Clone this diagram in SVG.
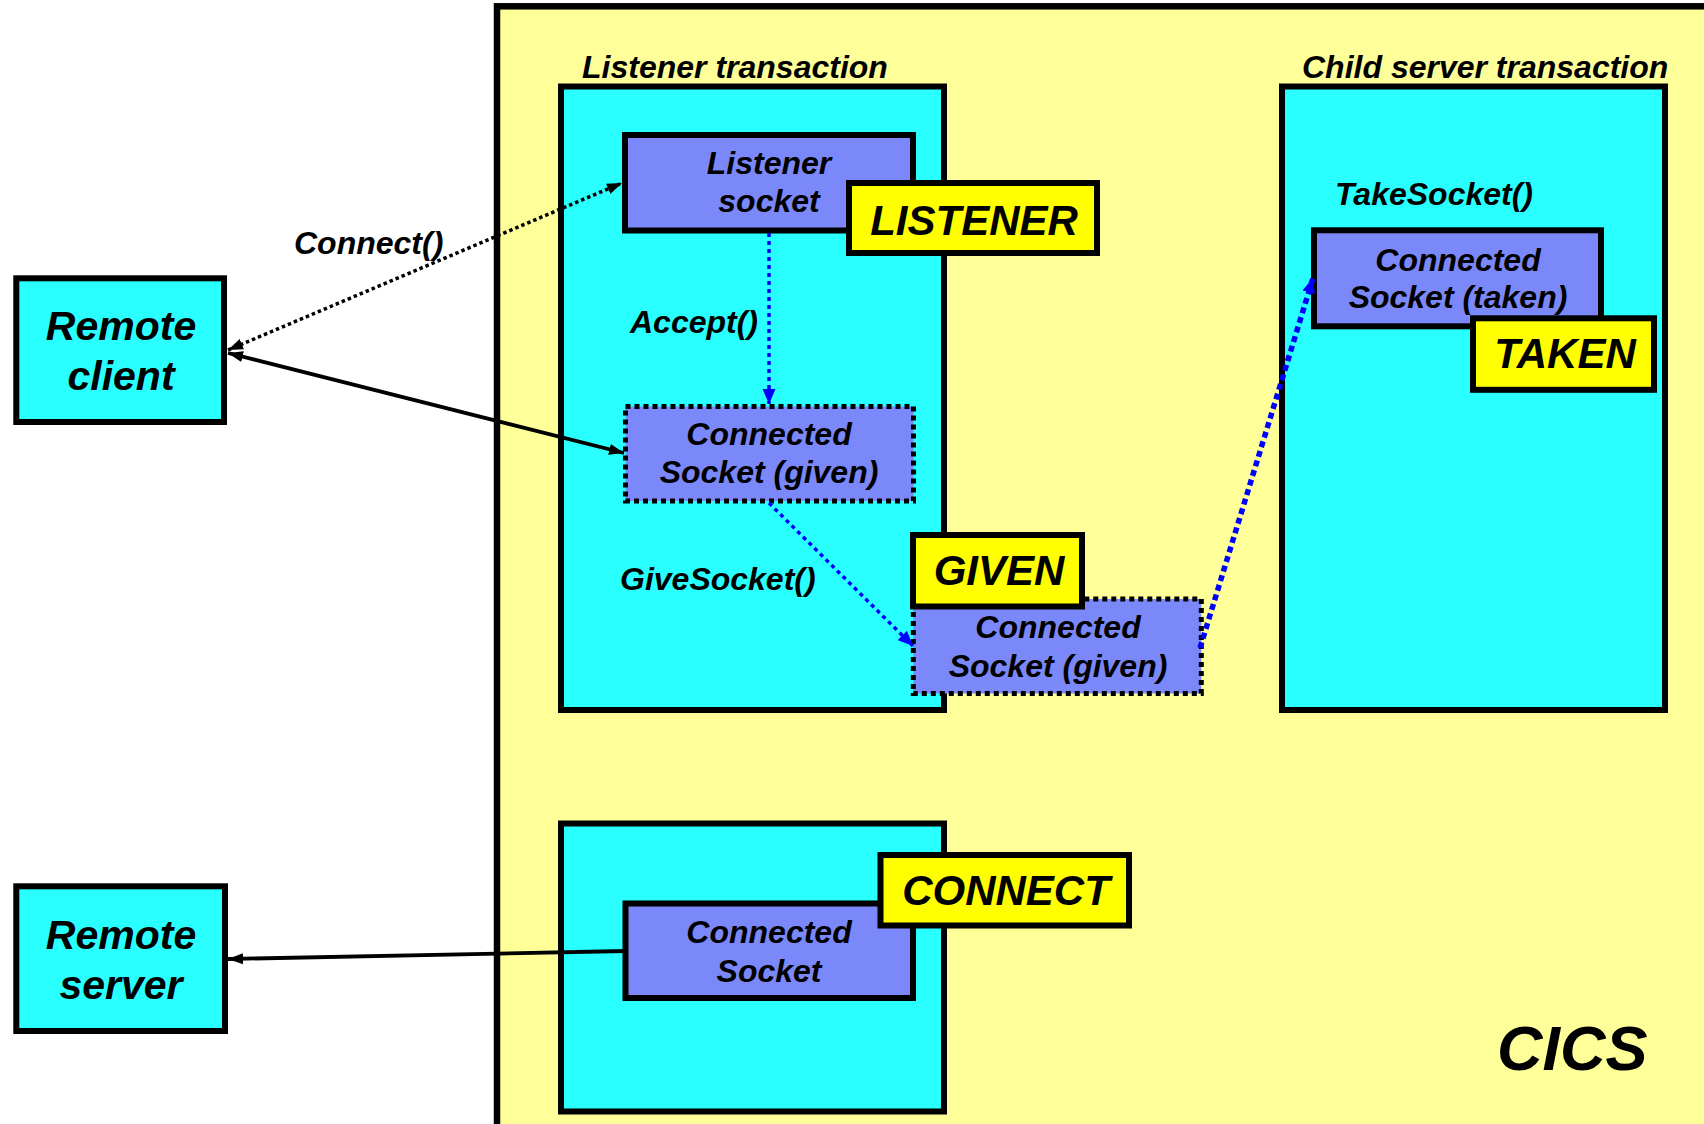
<svg xmlns="http://www.w3.org/2000/svg" width="1704" height="1124" viewBox="0 0 1704 1124">
  <style>
    text { font-family: "Liberation Sans", Arial, sans-serif; font-weight: bold; font-style: italic; fill: #000; }
    .region { fill: #FFFF99; stroke: #000; stroke-width: 6.5; }
    .txn { fill: #2AFFFF; stroke: #000; stroke-width: 6; }
    .remote { fill: #2AFFFF; stroke: #000; stroke-width: 6; }
    .sock { fill: #7B88FA; stroke: #000; stroke-width: 6; }
    .sock-dash { fill: #7B88FA; stroke: #000; stroke-width: 5; stroke-dasharray: 5 4; }
    .state { fill: #FFFF00; stroke: #000; stroke-width: 6; }
    .t-node { font-size: 32px; text-anchor: middle; }
    .t-remote { font-size: 41px; text-anchor: middle; }
    .t-state { font-size: 42px; text-anchor: middle; }
    .t-call { font-size: 32px; }
    .t-cics { font-size: 63px; }
    .link-solid { fill: none; stroke: #000; stroke-width: 3.8; }
    .link-dot { fill: none; stroke: #000; stroke-width: 3.5; stroke-dasharray: 3.5 3; }
    .link-blue { fill: none; stroke: #0000FF; stroke-width: 3.5; stroke-dasharray: 4 4; }
    .link-blue-bold { fill: none; stroke: #0000FF; stroke-width: 5.5; stroke-dasharray: 6 4; }
  </style>
  <defs>
    <marker id="arrowBlack" markerUnits="userSpaceOnUse" markerWidth="16" markerHeight="14" refX="15" refY="7" orient="auto-start-reverse">
      <path d="M0,1.5 L15,7 L0,12.5 Z" fill="#000"/>
    </marker>
    <marker id="arrowBlue" markerUnits="userSpaceOnUse" markerWidth="16" markerHeight="14" refX="15" refY="7" orient="auto">
      <path d="M0,0.5 L15,7 L0,13.5 Z" fill="#0000FF"/>
    </marker>
  </defs>

  <rect width="1704" height="1124" fill="#FFFFFF"/>

  <!-- CICS region, running off the right and bottom edges -->
  <g id="cics">
    <rect class="region" x="497" y="6.3" width="1240" height="1150"/>
    <text class="t-cics" x="1497" y="1070">CICS</text>
  </g>

  <!-- transaction containers -->
  <g id="listener-transaction">
    <rect class="txn" x="561" y="86.5" width="383" height="623.5"/>
    <text class="t-call" x="582" y="78">Listener transaction</text>
  </g>
  <g id="child-server-transaction">
    <rect class="txn" x="1282" y="86.5" width="383" height="623.5"/>
    <text class="t-call" x="1302" y="78">Child server transaction</text>
  </g>
  <g id="connect-transaction">
    <rect class="txn" x="561" y="823.5" width="383" height="288"/>
  </g>

  <!-- remote endpoints -->
  <g id="remote-client">
    <rect class="remote" x="16.3" y="278.3" width="207.7" height="143.7"/>
    <text class="t-remote" x="121" y="340">Remote</text>
    <text class="t-remote" x="121" y="390">client</text>
  </g>
  <g id="remote-server">
    <rect class="remote" x="16.3" y="886.3" width="208.7" height="144.7"/>
    <text class="t-remote" x="121" y="949">Remote</text>
    <text class="t-remote" x="121" y="999">server</text>
  </g>

  <!-- sockets -->
  <g id="listener-socket">
    <rect class="sock" x="625" y="135" width="288" height="95.5"/>
    <text class="t-node" x="769" y="174">Listener</text>
    <text class="t-node" x="769" y="212">socket</text>
  </g>
  <g id="listener-state">
    <rect class="state" x="849" y="183" width="248" height="70"/>
    <text class="t-state" x="974" y="235">LISTENER</text>
  </g>

  <g id="connected-given">
    <rect class="sock-dash" x="625.5" y="406.5" width="288" height="94.5"/>
    <text class="t-node" x="769" y="445">Connected</text>
    <text class="t-node" x="769" y="483">Socket (given)</text>
  </g>

  <g id="connected-given-handoff">
    <rect class="sock-dash" x="913.3" y="599" width="288" height="94.5"/>
    <text class="t-node" x="1058" y="638">Connected</text>
    <text class="t-node" x="1058" y="676.5">Socket (given)</text>
  </g>
  <g id="given-state">
    <rect class="state" x="913" y="535" width="169" height="71.5"/>
    <text class="t-state" x="999" y="585">GIVEN</text>
  </g>

  <g id="connected-taken">
    <rect class="sock" x="1314" y="230.3" width="287" height="96"/>
    <text class="t-node" x="1458" y="270.5">Connected</text>
    <text class="t-node" x="1458" y="307.5">Socket (taken)</text>
  </g>
  <g id="taken-state">
    <rect class="state" x="1473" y="318.3" width="181" height="71.5"/>
    <text class="t-state" x="1565" y="368">TAKEN</text>
  </g>

  <g id="connected-outbound">
    <rect class="sock" x="625.5" y="903.5" width="287.5" height="94.5"/>
    <text class="t-node" x="769" y="943">Connected</text>
    <text class="t-node" x="769" y="982">Socket</text>
  </g>
  <g id="connect-state">
    <rect class="state" x="880.5" y="855" width="248.5" height="70.5"/>
    <text class="t-state" x="1006" y="905">CONNECT</text>
  </g>

  <!-- connectors -->
  <g id="connectors">
    <line class="link-dot" x1="228" y1="350" x2="622" y2="183" marker-start="url(#arrowBlack)" marker-end="url(#arrowBlack)"/>
    <line class="link-solid" x1="228" y1="353" x2="624" y2="453" marker-start="url(#arrowBlack)" marker-end="url(#arrowBlack)"/>
    <line class="link-blue" x1="769" y1="233" x2="769" y2="404" marker-end="url(#arrowBlue)"/>
    <line class="link-blue" x1="769" y1="503" x2="913" y2="646" marker-end="url(#arrowBlue)"/>
    <line class="link-blue-bold" x1="1200" y1="648" x2="1313" y2="278" marker-end="url(#arrowBlue)"/>
    <line class="link-solid" x1="625" y1="951" x2="228" y2="959" marker-end="url(#arrowBlack)"/>
    <text class="t-call" x="294" y="254">Connect()</text>
    <text class="t-call" x="630" y="333">Accept()</text>
    <text class="t-call" x="620" y="590">GiveSocket()</text>
    <text class="t-call" x="1335" y="205">TakeSocket()</text>
  </g>
</svg>
